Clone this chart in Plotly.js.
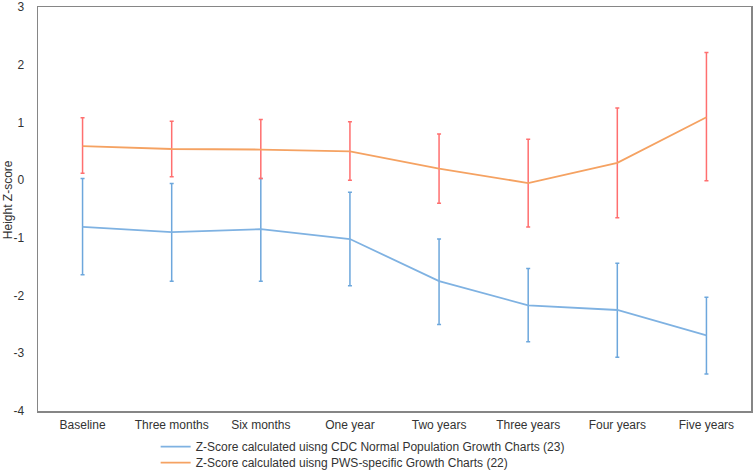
<!DOCTYPE html>
<html>
<head>
<meta charset="utf-8">
<script src="https://cdn.plot.ly/plotly-3.0.1.min.js"></script>
<style>html,body{margin:0;padding:0;background:#fff;}#chart{width:754px;height:473px;}</style>
</head>
<body>
<div id="chart"></div>
<script>
const categories = ["Baseline", "Three months", "Six months", "One year", "Two years", "Three years", "Four years", "Five years"];

const cdcName = "Z-Score calculated uisng CDC Normal Population Growth Charts (23)";
const cdcMean = [-0.81, -0.90, -0.85, -1.02, -1.75, -2.17, -2.25, -2.69];
const cdcErrPlus = [0.84, 0.84, 0.88, 0.81, 0.73, 0.64, 0.81, 0.66];
const cdcErrMinus = [0.83, 0.85, 0.90, 0.81, 0.75, 0.63, 0.82, 0.67];

const pwsName = "Z-Score calculated uisng PWS-specific Growth Charts (22)";
const pwsMean = [0.59, 0.54, 0.53, 0.50, 0.20, -0.05, 0.30, 1.09];
const pwsErrPlus = [0.49, 0.48, 0.52, 0.51, 0.60, 0.76, 0.95, 1.12];
const pwsErrMinus = [0.47, 0.48, 0.50, 0.50, 0.60, 0.76, 0.95, 1.10];

const yTicks = [3, 2, 1, 0, -1, -2, -3, -4];
const yTitle = "Height Z-score";

const font = {family: "Liberation Sans, Arial, sans-serif", size: 12, color: "#333333"};

const traces = [
  {
    x: categories, y: cdcMean, name: cdcName, type: "scatter", mode: "lines",
    line: {color: "#7fb2e2", width: 1.8},
    error_y: {type: "data", symmetric: false, array: cdcErrPlus, arrayminus: cdcErrMinus,
              color: "#6da7dc", thickness: 1.5, width: 2},
    legend: "legend"
  },
  {
    x: categories, y: pwsMean, name: pwsName, type: "scatter", mode: "lines",
    line: {color: "#f5a262", width: 1.8},
    error_y: {type: "data", symmetric: false, array: pwsErrPlus, arrayminus: pwsErrMinus,
              color: "#ff6f6f", thickness: 1.5, width: 2},
    legend: "legend2"
  }
];

const legendCommon = {
  orientation: "v", xanchor: "left", yanchor: "middle", font: font,
  bgcolor: "rgba(0,0,0,0)", borderwidth: 0, itemwidth: 30
};

const layout = {
  width: 754, height: 473,
  margin: {l: 38, r: 3, t: 7, b: 62, autoexpand: false},
  paper_bgcolor: "#ffffff", plot_bgcolor: "#ffffff",
  font: font,
  showlegend: true,
  xaxis: {
    type: "category", range: [-0.5, 7.5],
    showgrid: false, zeroline: false,
    showline: true, mirror: true, linecolor: "#868686", linewidth: 1.5,
    ticks: "", ticklabelstandoff: 2,
    tickfont: font
  },
  yaxis: {
    range: [-4, 3], tickmode: "array", tickvals: yTicks, ticktext: yTicks.map(String),
    showgrid: false, zeroline: false,
    showline: true, mirror: true, linecolor: "#868686", linewidth: 1.5,
    ticks: "", ticklabelstandoff: 10,
    tickfont: font
  },
  annotations: [{
    text: yTitle, xref: "paper", yref: "paper", x: -0.042, y: 0.522,
    xanchor: "center", yanchor: "middle", textangle: -90, showarrow: false, font: font
  }],
  legend: Object.assign({}, legendCommon, {x: 0.165, y: -0.088}),
  legend2: Object.assign({}, legendCommon, {x: 0.165, y: -0.128})
};

Plotly.newPlot("chart", traces, layout, {displayModeBar: false, staticPlot: true});
</script>
</body>
</html>
